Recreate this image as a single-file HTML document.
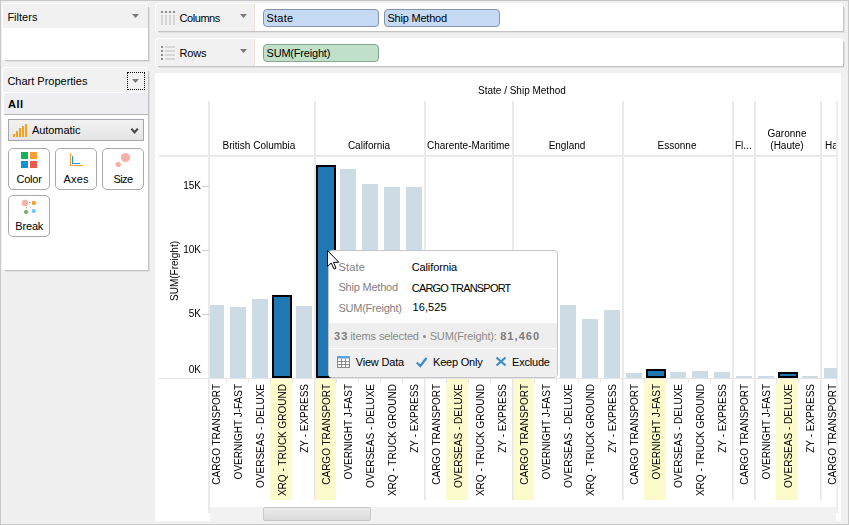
<!DOCTYPE html>
<html><head><meta charset="utf-8"><style>
html,body{margin:0;padding:0}
body{width:849px;height:525px;position:relative;overflow:hidden;background:#f0f0f0;font-family:"Liberation Sans", sans-serif}
div,svg{position:absolute}
.t{white-space:nowrap}
.g{will-change:transform}
</style></head><body>
<div style="left:0px;top:0px;width:849px;height:1px;background:#c8c8c8"></div>
<div style="left:0px;top:0px;width:1px;height:525px;background:#c8c8c8"></div>
<div style="left:0px;top:524px;width:849px;height:1px;background:#c8c8c8"></div>
<div style="left:848px;top:0px;width:1px;height:525px;background:#c8c8c8"></div>
<div style="left:148px;top:7px;width:1px;height:54px;background:#c4c4c4"></div>
<div style="left:149px;top:8px;width:1px;height:54px;background:#e0e0e0"></div>
<div style="left:5px;top:60px;width:144px;height:1px;background:#c4c4c4"></div>
<div style="left:6px;top:61px;width:144px;height:1px;background:#e0e0e0"></div>
<div style="left:2px;top:3px;width:146px;height:57px;background:#fff;border-radius:4px 4px 0 0"></div>
<div style="left:3px;top:4px;width:145px;height:24px;background:#f1f1f1;border-radius:3px 3px 0 0"></div>
<div class="t" style="left:7.4px;top:11.69px;font-size:11px;line-height:11px;color:#000;font-weight:normal;letter-spacing:0.008px;">Filters</div>
<svg style="left:132px;top:14px" width="8" height="6"><path d="M0 0H7L3.5 4Z" fill="#7a7a7a"/></svg>
<div style="left:148px;top:71px;width:1px;height:200px;background:#c4c4c4"></div>
<div style="left:149px;top:72px;width:1px;height:200px;background:#e0e0e0"></div>
<div style="left:5px;top:270px;width:144px;height:1px;background:#c4c4c4"></div>
<div style="left:6px;top:271px;width:144px;height:1px;background:#e0e0e0"></div>
<div style="left:2px;top:67px;width:146px;height:203px;background:#fff;border-radius:4px 4px 0 0"></div>
<div style="left:3px;top:68px;width:145px;height:24px;background:#f1f1f1;border-radius:3px 3px 0 0"></div>
<div class="t" style="left:7.4px;top:75.69px;font-size:11px;line-height:11px;color:#000;font-weight:normal;letter-spacing:-0.006px;">Chart Properties</div>
<div style="left:127px;top:72px;width:18px;height:18px;box-sizing:border-box;border:1px dotted #000"></div>
<svg style="left:132px;top:79px" width="8" height="6"><path d="M0 0H7L3.5 4Z" fill="#7a7a7a"/></svg>
<div style="left:4px;top:93px;width:144px;height:21px;background:#eeeef2"></div>
<div style="left:4px;top:114px;width:144px;height:1px;background:#b4b4b4"></div>
<div class="t" style="left:8px;top:98.69px;font-size:11px;line-height:11px;color:#000;font-weight:bold;letter-spacing:0.469px;">All</div>
<div style="left:8px;top:119px;width:136px;height:22px;box-sizing:border-box;border:1px solid #a3a6ab;background:linear-gradient(#f2f2f2,#e4e4e4)"></div>
<div style="left:13px;top:134px;width:2px;height:3px;background:#f5a31a"></div>
<div style="left:16px;top:131px;width:2px;height:6px;background:#f5a31a"></div>
<div style="left:19px;top:128px;width:2px;height:9px;background:#f5a31a"></div>
<div style="left:22px;top:126px;width:2px;height:11px;background:#f5a31a"></div>
<div style="left:25px;top:124px;width:2px;height:13px;background:#f5a31a"></div>
<div class="t" style="left:32px;top:124.69px;font-size:11px;line-height:11px;color:#000;font-weight:normal;letter-spacing:-0.065px;">Automatic</div>
<svg style="left:130px;top:127px" width="10" height="8"><path d="M1.4 1.6L4.6 5.4L7.8 1.6" stroke="#484848" stroke-width="2.2" fill="none"/></svg>
<div style="left:8px;top:148px;width:42px;height:42px;box-sizing:border-box;border:1px solid #a9a9a9;border-radius:5px;background:#fff"></div>
<div class="t" style="left:16.5px;top:173.69px;font-size:11px;line-height:11px;color:#000;font-weight:normal;letter-spacing:-0.249px;">Color</div>
<div style="left:55px;top:148px;width:42px;height:42px;box-sizing:border-box;border:1px solid #a9a9a9;border-radius:5px;background:#fff"></div>
<div class="t" style="left:63.5px;top:173.69px;font-size:11px;line-height:11px;color:#000;font-weight:normal;letter-spacing:0.177px;">Axes</div>
<div style="left:102px;top:148px;width:42px;height:42px;box-sizing:border-box;border:1px solid #a9a9a9;border-radius:5px;background:#fff"></div>
<div class="t" style="left:113.5px;top:173.69px;font-size:11px;line-height:11px;color:#000;font-weight:normal;letter-spacing:-0.602px;">Size</div>
<div style="left:8px;top:195px;width:42px;height:42px;box-sizing:border-box;border:1px solid #a9a9a9;border-radius:5px;background:#fff"></div>
<div class="t" style="left:15.2px;top:220.69px;font-size:11px;line-height:11px;color:#000;font-weight:normal;letter-spacing:-0.138px;">Break</div>
<div style="left:21px;top:152px;width:7px;height:7px;background:#12b35a"></div>
<div style="left:30px;top:152px;width:7px;height:7px;background:#f7a031"></div>
<div style="left:21px;top:161px;width:7px;height:7px;background:#0d94d2"></div>
<div style="left:30px;top:161px;width:7px;height:7px;background:#ee5a4a"></div>
<svg style="left:69px;top:152px" width="16" height="16"><path d="M1.5 1V13.5H14" stroke="#f7a031" stroke-width="1.1" fill="none"/><path d="M3.5 4V11.5H11" stroke="#14a0d4" stroke-width="1.1" fill="none"/></svg>
<svg style="left:112px;top:150px" width="20" height="20"><circle cx="13.5" cy="7.5" r="4.6" fill="#f4b1a8"/><circle cx="6.3" cy="14.4" r="2.6" fill="#f4b1a8"/></svg>
<svg style="left:18px;top:197px" width="22" height="18"><circle cx="7" cy="6" r="3.2" fill="#f4b1a8"/><circle cx="15.8" cy="6" r="2.2" fill="#f7a031"/><circle cx="8" cy="15" r="2.1" fill="#6bb36b"/><circle cx="15.8" cy="14" r="2.1" fill="#6cc6f5"/><path d="M11 5.5H12.5M8.5 10V11.5M11.5 9.5L12.5 10.5" stroke="#999" stroke-width="0.8"/></svg>
<div style="left:843px;top:7px;width:1px;height:25px;background:#c4c4c4"></div>
<div style="left:844px;top:8px;width:1px;height:25px;background:#e0e0e0"></div>
<div style="left:158px;top:31px;width:686px;height:1px;background:#c4c4c4"></div>
<div style="left:159px;top:32px;width:686px;height:1px;background:#e0e0e0"></div>
<div style="left:155px;top:3px;width:688px;height:28px;background:#fff;border-radius:4px 4px 0 0"></div>
<div style="left:156px;top:4px;width:687px;height:27px;background:#f1f1f1;border-radius:3px 3px 0 0"></div>
<div style="left:156px;top:4px;width:99px;height:27px;background:#f1f1f1;border-radius:3px 0 0 0"></div>
<div style="left:254px;top:4px;width:1px;height:27px;background:#ebe6d8"></div>
<div style="left:255px;top:4px;width:588px;height:27px;background:#fff"></div>
<div class="t" style="left:179.5px;top:12.69px;font-size:11px;line-height:11px;color:#000;font-weight:normal;letter-spacing:-0.434px;">Columns</div>
<svg style="left:240px;top:14px" width="8" height="6"><path d="M0 0H7L3.5 4Z" fill="#7a7a7a"/></svg>
<svg style="left:161px;top:11px" width="14" height="14"><rect x="0" y="0" width="2" height="2" fill="#8a8a8a"/><rect x="0" y="4" width="2" height="10" fill="#d6d6d6"/><rect x="4" y="0" width="2" height="2" fill="#8a8a8a"/><rect x="4" y="4" width="2" height="10" fill="#d6d6d6"/><rect x="8" y="0" width="2" height="2" fill="#8a8a8a"/><rect x="8" y="4" width="2" height="10" fill="#d6d6d6"/><rect x="12" y="0" width="2" height="2" fill="#8a8a8a"/><rect x="12" y="4" width="2" height="10" fill="#d6d6d6"/></svg>
<div style="left:843px;top:42px;width:1px;height:25px;background:#c4c4c4"></div>
<div style="left:844px;top:43px;width:1px;height:25px;background:#e0e0e0"></div>
<div style="left:158px;top:66px;width:686px;height:1px;background:#c4c4c4"></div>
<div style="left:159px;top:67px;width:686px;height:1px;background:#e0e0e0"></div>
<div style="left:155px;top:38px;width:688px;height:28px;background:#fff;border-radius:4px 4px 0 0"></div>
<div style="left:156px;top:39px;width:687px;height:27px;background:#f1f1f1;border-radius:3px 3px 0 0"></div>
<div style="left:156px;top:39px;width:99px;height:27px;background:#f1f1f1;border-radius:3px 0 0 0"></div>
<div style="left:254px;top:39px;width:1px;height:27px;background:#ebe6d8"></div>
<div style="left:255px;top:39px;width:588px;height:27px;background:#fff"></div>
<div class="t" style="left:179.5px;top:47.69px;font-size:11px;line-height:11px;color:#000;font-weight:normal;letter-spacing:-0.172px;">Rows</div>
<svg style="left:240px;top:49px" width="8" height="6"><path d="M0 0H7L3.5 4Z" fill="#7a7a7a"/></svg>
<svg style="left:161px;top:46px" width="16" height="14"><rect x="0" y="0" width="2" height="2" fill="#8a8a8a"/><rect x="4" y="0" width="10" height="2" fill="#d6d6d6"/><rect x="0" y="4" width="2" height="2" fill="#8a8a8a"/><rect x="4" y="4" width="10" height="2" fill="#d6d6d6"/><rect x="0" y="8" width="2" height="2" fill="#8a8a8a"/><rect x="4" y="8" width="10" height="2" fill="#d6d6d6"/><rect x="0" y="12" width="2" height="2" fill="#8a8a8a"/><rect x="4" y="12" width="10" height="2" fill="#d6d6d6"/></svg>
<div style="left:263px;top:9px;width:116px;height:18px;box-sizing:border-box;border:1px solid #8193ad;border-radius:4px;background:#c7daf4"></div>
<div class="t" style="left:266.5px;top:12.69px;font-size:11px;line-height:11px;color:#000;font-weight:normal;letter-spacing:0.228px;">State</div>
<div style="left:384px;top:9px;width:116px;height:18px;box-sizing:border-box;border:1px solid #8193ad;border-radius:4px;background:#c7daf4"></div>
<div class="t" style="left:387.5px;top:12.69px;font-size:11px;line-height:11px;color:#000;font-weight:normal;letter-spacing:-0.217px;">Ship Method</div>
<div style="left:263px;top:44px;width:116px;height:18px;box-sizing:border-box;border:1px solid #88a592;border-radius:4px;background:#c0e0c9"></div>
<div class="t" style="left:266.5px;top:47.69px;font-size:11px;line-height:11px;color:#000;font-weight:normal;letter-spacing:-0.192px;">SUM(Freight)</div>
<div style="left:155px;top:73px;width:686px;height:448px;background:#fff"></div>
<div class="t" style="left:478px;top:85.53999999999999px;font-size:10px;line-height:10px;color:#000;font-weight:normal;will-change:transform;">State / Ship Method</div>
<div style="left:208px;top:101px;width:2px;height:412px;background:#eaeaea"></div>
<div style="left:314px;top:101px;width:2px;height:399px;background:#eaeaea"></div>
<div style="left:424px;top:101px;width:2px;height:399px;background:#eaeaea"></div>
<div style="left:512px;top:101px;width:2px;height:399px;background:#eaeaea"></div>
<div style="left:622px;top:101px;width:2px;height:399px;background:#eaeaea"></div>
<div style="left:732px;top:101px;width:2px;height:399px;background:#eaeaea"></div>
<div style="left:754px;top:101px;width:2px;height:399px;background:#eaeaea"></div>
<div style="left:820px;top:101px;width:2px;height:399px;background:#eaeaea"></div>
<div style="left:836px;top:101px;width:2px;height:412px;background:#efefef"></div>
<div style="left:159px;top:155px;width:678px;height:2px;background:#efefef"></div>
<div style="left:159px;top:155px;width:678px;height:1px;background:#e6e6e6"></div>
<div class="t g" style="left:159px;width:200px;text-align:center;top:140.54px;font-size:10px;line-height:10px;color:#000">British Columbia</div>
<div class="t g" style="left:269px;width:200px;text-align:center;top:140.54px;font-size:10px;line-height:10px;color:#000">California</div>
<div class="t g" style="left:427px;top:140.53px;font-size:10px;line-height:10px;color:#000">Charente-Maritime</div>
<div class="t g" style="left:467px;width:200px;text-align:center;top:140.54px;font-size:10px;line-height:10px;color:#000">England</div>
<div class="t g" style="left:577px;width:200px;text-align:center;top:140.54px;font-size:10px;line-height:10px;color:#000">Essonne</div>
<div class="t g" style="left:735px;top:140.53px;font-size:10px;line-height:10px;color:#000">Fl...</div>
<div class="t g" style="left:687px;width:200px;text-align:center;top:128.54px;font-size:10px;line-height:10px;color:#000">Garonne</div>
<div class="t g" style="left:687px;width:200px;text-align:center;top:140.54px;font-size:10px;line-height:10px;color:#000">(Haute)</div>
<div class="t g" style="left:825px;top:140.53px;font-size:10px;line-height:10px;color:#000;width:11px;overflow:hidden">Ha</div>
<div style="left:159px;top:378px;width:50px;height:1px;background:#e6e6e6"></div>
<div style="left:210px;top:378px;width:627px;height:1px;background:#e6e6e6"></div>
<div style="left:202px;top:186px;width:7px;height:1px;background:#d0d0d0"></div>
<div class="t g" style="left:150.5px;width:50px;text-align:right;top:181.03px;font-size:10px;line-height:10px;color:#000">15K</div>
<div style="left:202px;top:250px;width:7px;height:1px;background:#d0d0d0"></div>
<div class="t g" style="left:150.5px;width:50px;text-align:right;top:245.03px;font-size:10px;line-height:10px;color:#000">10K</div>
<div style="left:202px;top:314px;width:7px;height:1px;background:#d0d0d0"></div>
<div class="t g" style="left:150.5px;width:50px;text-align:right;top:309.03px;font-size:10px;line-height:10px;color:#000">5K</div>
<div class="t g" style="left:150.5px;width:50px;text-align:right;top:364.53px;font-size:10px;line-height:10px;color:#000">0K</div>
<div class="t g" style="left:170px;top:321px;width:100px;text-align:center;font-size:10px;line-height:10px;color:#000;transform:rotate(-90deg);transform-origin:0 0">SUM(Freight)</div>
<div style="left:210px;top:157px;width:627px;height:221px;overflow:hidden">
<div style="left:-2px;top:148px;width:16px;height:73px;background:#cddbe5"></div>
<div style="left:20px;top:150px;width:16px;height:71px;background:#cddbe5"></div>
<div style="left:42px;top:142px;width:16px;height:79px;background:#cddbe5"></div>
<div style="left:62px;top:138px;width:20px;height:83px;box-sizing:border-box;border:2px solid #000;background:#1f77b4"></div>
<div style="left:86px;top:149px;width:16px;height:72px;background:#cddbe5"></div>
<div style="left:106px;top:8px;width:20px;height:213px;box-sizing:border-box;border:2px solid #000;background:#1f77b4"></div>
<div style="left:130px;top:12px;width:16px;height:209px;background:#cddbe5"></div>
<div style="left:152px;top:27px;width:16px;height:194px;background:#cddbe5"></div>
<div style="left:174px;top:30px;width:16px;height:191px;background:#cddbe5"></div>
<div style="left:196px;top:30px;width:16px;height:191px;background:#cddbe5"></div>
<div style="left:218px;top:213px;width:16px;height:8px;background:#cddbe5"></div>
<div style="left:238px;top:213px;width:20px;height:8px;box-sizing:border-box;border:2px solid #000;background:#1f77b4"></div>
<div style="left:262px;top:215px;width:16px;height:6px;background:#cddbe5"></div>
<div style="left:284px;top:215px;width:16px;height:6px;background:#cddbe5"></div>
<div style="left:304px;top:141px;width:20px;height:80px;box-sizing:border-box;border:2px solid #000;background:#1f77b4"></div>
<div style="left:328px;top:163px;width:16px;height:58px;background:#cddbe5"></div>
<div style="left:350px;top:148px;width:16px;height:73px;background:#cddbe5"></div>
<div style="left:372px;top:162px;width:16px;height:59px;background:#cddbe5"></div>
<div style="left:394px;top:153px;width:16px;height:68px;background:#cddbe5"></div>
<div style="left:416px;top:216px;width:16px;height:5px;background:#cddbe5"></div>
<div style="left:436px;top:212px;width:20px;height:9px;box-sizing:border-box;border:2px solid #000;background:#1f77b4"></div>
<div style="left:460px;top:215px;width:16px;height:6px;background:#cddbe5"></div>
<div style="left:482px;top:214px;width:16px;height:7px;background:#cddbe5"></div>
<div style="left:504px;top:215px;width:16px;height:6px;background:#cddbe5"></div>
<div style="left:526px;top:219px;width:16px;height:2px;background:#cddbe5"></div>
<div style="left:548px;top:219px;width:16px;height:2px;background:#cddbe5"></div>
<div style="left:568px;top:215px;width:20px;height:6px;box-sizing:border-box;border:2px solid #000;background:#1f77b4"></div>
<div style="left:592px;top:219px;width:16px;height:2px;background:#cddbe5"></div>
<div style="left:614px;top:211px;width:16px;height:10px;background:#cddbe5"></div>
</div>
<div style="left:210px;top:379px;width:627px;height:134px;overflow:hidden">
<div class="t g" style="left:1.5px;top:155px;width:150px;text-align:right;font-size:10px;line-height:10px;color:#000;transform:rotate(-90deg);transform-origin:0 0;white-space:nowrap">CARGO TRANSPORT</div>
<div style="left:16px;top:0;width:1px;height:4px;background:#e6e6e6"></div>
<div class="t g" style="left:23.5px;top:155px;width:150px;text-align:right;font-size:10px;line-height:10px;color:#000;transform:rotate(-90deg);transform-origin:0 0;white-space:nowrap">OVERNIGHT J-FAST</div>
<div style="left:38px;top:0;width:1px;height:4px;background:#e6e6e6"></div>
<div class="t g" style="left:45.5px;top:155px;width:150px;text-align:right;font-size:10px;line-height:10px;color:#000;transform:rotate(-90deg);transform-origin:0 0;white-space:nowrap">OVERSEAS - DELUXE</div>
<div style="left:60px;top:0;width:22px;height:121px;background:#fbfbcb"></div>
<div style="left:60px;top:0;width:1px;height:4px;background:#e6e6e6"></div>
<div class="t g" style="left:67.5px;top:155px;width:150px;text-align:right;font-size:10px;line-height:10px;color:#000;transform:rotate(-90deg);transform-origin:0 0;white-space:nowrap">XRQ - TRUCK GROUND</div>
<div style="left:82px;top:0;width:1px;height:4px;background:#e6e6e6"></div>
<div class="t g" style="left:89.5px;top:155px;width:150px;text-align:right;font-size:10px;line-height:10px;color:#000;transform:rotate(-90deg);transform-origin:0 0;white-space:nowrap">ZY - EXPRESS</div>
<div style="left:104px;top:0;width:22px;height:121px;background:#fbfbcb"></div>
<div style="left:104px;top:0;width:2px;height:121px;background:#efefef"></div><div style="left:104px;top:0;width:1px;height:121px;background:#e6e6e6"></div>
<div class="t g" style="left:111.5px;top:155px;width:150px;text-align:right;font-size:10px;line-height:10px;color:#000;transform:rotate(-90deg);transform-origin:0 0;white-space:nowrap">CARGO TRANSPORT</div>
<div style="left:126px;top:0;width:1px;height:4px;background:#e6e6e6"></div>
<div class="t g" style="left:133.5px;top:155px;width:150px;text-align:right;font-size:10px;line-height:10px;color:#000;transform:rotate(-90deg);transform-origin:0 0;white-space:nowrap">OVERNIGHT J-FAST</div>
<div style="left:148px;top:0;width:1px;height:4px;background:#e6e6e6"></div>
<div class="t g" style="left:155.5px;top:155px;width:150px;text-align:right;font-size:10px;line-height:10px;color:#000;transform:rotate(-90deg);transform-origin:0 0;white-space:nowrap">OVERSEAS - DELUXE</div>
<div style="left:170px;top:0;width:1px;height:4px;background:#e6e6e6"></div>
<div class="t g" style="left:177.5px;top:155px;width:150px;text-align:right;font-size:10px;line-height:10px;color:#000;transform:rotate(-90deg);transform-origin:0 0;white-space:nowrap">XRQ - TRUCK GROUND</div>
<div style="left:192px;top:0;width:1px;height:4px;background:#e6e6e6"></div>
<div class="t g" style="left:199.5px;top:155px;width:150px;text-align:right;font-size:10px;line-height:10px;color:#000;transform:rotate(-90deg);transform-origin:0 0;white-space:nowrap">ZY - EXPRESS</div>
<div style="left:214px;top:0;width:2px;height:121px;background:#efefef"></div><div style="left:214px;top:0;width:1px;height:121px;background:#e6e6e6"></div>
<div class="t g" style="left:221.5px;top:155px;width:150px;text-align:right;font-size:10px;line-height:10px;color:#000;transform:rotate(-90deg);transform-origin:0 0;white-space:nowrap">CARGO TRANSPORT</div>
<div style="left:236px;top:0;width:22px;height:121px;background:#fbfbcb"></div>
<div style="left:236px;top:0;width:1px;height:4px;background:#e6e6e6"></div>
<div class="t g" style="left:243.5px;top:155px;width:150px;text-align:right;font-size:10px;line-height:10px;color:#000;transform:rotate(-90deg);transform-origin:0 0;white-space:nowrap">OVERSEAS - DELUXE</div>
<div style="left:258px;top:0;width:1px;height:4px;background:#e6e6e6"></div>
<div class="t g" style="left:265.5px;top:155px;width:150px;text-align:right;font-size:10px;line-height:10px;color:#000;transform:rotate(-90deg);transform-origin:0 0;white-space:nowrap">XRQ - TRUCK GROUND</div>
<div style="left:280px;top:0;width:1px;height:4px;background:#e6e6e6"></div>
<div class="t g" style="left:287.5px;top:155px;width:150px;text-align:right;font-size:10px;line-height:10px;color:#000;transform:rotate(-90deg);transform-origin:0 0;white-space:nowrap">ZY - EXPRESS</div>
<div style="left:302px;top:0;width:22px;height:121px;background:#fbfbcb"></div>
<div style="left:302px;top:0;width:2px;height:121px;background:#efefef"></div><div style="left:302px;top:0;width:1px;height:121px;background:#e6e6e6"></div>
<div class="t g" style="left:309.5px;top:155px;width:150px;text-align:right;font-size:10px;line-height:10px;color:#000;transform:rotate(-90deg);transform-origin:0 0;white-space:nowrap">CARGO TRANSPORT</div>
<div style="left:324px;top:0;width:1px;height:4px;background:#e6e6e6"></div>
<div class="t g" style="left:331.5px;top:155px;width:150px;text-align:right;font-size:10px;line-height:10px;color:#000;transform:rotate(-90deg);transform-origin:0 0;white-space:nowrap">OVERNIGHT J-FAST</div>
<div style="left:346px;top:0;width:1px;height:4px;background:#e6e6e6"></div>
<div class="t g" style="left:353.5px;top:155px;width:150px;text-align:right;font-size:10px;line-height:10px;color:#000;transform:rotate(-90deg);transform-origin:0 0;white-space:nowrap">OVERSEAS - DELUXE</div>
<div style="left:368px;top:0;width:1px;height:4px;background:#e6e6e6"></div>
<div class="t g" style="left:375.5px;top:155px;width:150px;text-align:right;font-size:10px;line-height:10px;color:#000;transform:rotate(-90deg);transform-origin:0 0;white-space:nowrap">XRQ - TRUCK GROUND</div>
<div style="left:390px;top:0;width:1px;height:4px;background:#e6e6e6"></div>
<div class="t g" style="left:397.5px;top:155px;width:150px;text-align:right;font-size:10px;line-height:10px;color:#000;transform:rotate(-90deg);transform-origin:0 0;white-space:nowrap">ZY - EXPRESS</div>
<div style="left:412px;top:0;width:2px;height:121px;background:#efefef"></div><div style="left:412px;top:0;width:1px;height:121px;background:#e6e6e6"></div>
<div class="t g" style="left:419.5px;top:155px;width:150px;text-align:right;font-size:10px;line-height:10px;color:#000;transform:rotate(-90deg);transform-origin:0 0;white-space:nowrap">CARGO TRANSPORT</div>
<div style="left:434px;top:0;width:22px;height:121px;background:#fbfbcb"></div>
<div style="left:434px;top:0;width:1px;height:4px;background:#e6e6e6"></div>
<div class="t g" style="left:441.5px;top:155px;width:150px;text-align:right;font-size:10px;line-height:10px;color:#000;transform:rotate(-90deg);transform-origin:0 0;white-space:nowrap">OVERNIGHT J-FAST</div>
<div style="left:456px;top:0;width:1px;height:4px;background:#e6e6e6"></div>
<div class="t g" style="left:463.5px;top:155px;width:150px;text-align:right;font-size:10px;line-height:10px;color:#000;transform:rotate(-90deg);transform-origin:0 0;white-space:nowrap">OVERSEAS - DELUXE</div>
<div style="left:478px;top:0;width:1px;height:4px;background:#e6e6e6"></div>
<div class="t g" style="left:485.5px;top:155px;width:150px;text-align:right;font-size:10px;line-height:10px;color:#000;transform:rotate(-90deg);transform-origin:0 0;white-space:nowrap">XRQ - TRUCK GROUND</div>
<div style="left:500px;top:0;width:1px;height:4px;background:#e6e6e6"></div>
<div class="t g" style="left:507.5px;top:155px;width:150px;text-align:right;font-size:10px;line-height:10px;color:#000;transform:rotate(-90deg);transform-origin:0 0;white-space:nowrap">ZY - EXPRESS</div>
<div style="left:522px;top:0;width:2px;height:121px;background:#efefef"></div><div style="left:522px;top:0;width:1px;height:121px;background:#e6e6e6"></div>
<div class="t g" style="left:529.5px;top:155px;width:150px;text-align:right;font-size:10px;line-height:10px;color:#000;transform:rotate(-90deg);transform-origin:0 0;white-space:nowrap">CARGO TRANSPORT</div>
<div style="left:544px;top:0;width:2px;height:121px;background:#efefef"></div><div style="left:544px;top:0;width:1px;height:121px;background:#e6e6e6"></div>
<div class="t g" style="left:551.5px;top:155px;width:150px;text-align:right;font-size:10px;line-height:10px;color:#000;transform:rotate(-90deg);transform-origin:0 0;white-space:nowrap">OVERNIGHT J-FAST</div>
<div style="left:566px;top:0;width:22px;height:121px;background:#fbfbcb"></div>
<div style="left:566px;top:0;width:1px;height:4px;background:#e6e6e6"></div>
<div class="t g" style="left:573.5px;top:155px;width:150px;text-align:right;font-size:10px;line-height:10px;color:#000;transform:rotate(-90deg);transform-origin:0 0;white-space:nowrap">OVERSEAS - DELUXE</div>
<div style="left:588px;top:0;width:1px;height:4px;background:#e6e6e6"></div>
<div class="t g" style="left:595.5px;top:155px;width:150px;text-align:right;font-size:10px;line-height:10px;color:#000;transform:rotate(-90deg);transform-origin:0 0;white-space:nowrap">ZY - EXPRESS</div>
<div style="left:610px;top:0;width:2px;height:121px;background:#efefef"></div><div style="left:610px;top:0;width:1px;height:121px;background:#e6e6e6"></div>
<div class="t g" style="left:617.5px;top:155px;width:150px;text-align:right;font-size:10px;line-height:10px;color:#000;transform:rotate(-90deg);transform-origin:0 0;white-space:nowrap">CARGO TRANSPORT</div>
</div>
<div style="left:210px;top:507px;width:626px;height:14px;background:#f2f2f2"></div>
<div style="left:263px;top:507px;width:108px;height:14px;box-sizing:border-box;border:1px solid #c6c6c6;border-radius:2px;background:linear-gradient(#ececec,#dadada)"></div>
<div style="left:841px;top:72px;width:7px;height:452px;background:#f0f0f0"></div>
<div style="left:328px;top:250px;width:230px;height:128px;box-sizing:border-box;border:1px solid #c4c4c4;border-radius:4px;background:#fff;overflow:hidden">
<div style="left:0;top:72px;width:228px;height:25px;background:#eeeeee"></div>
<div style="left:0;top:98px;width:228px;height:30px;background:#f0f0f0"></div>
</div>
<div class="t" style="left:338.4px;top:262.19px;font-size:11px;line-height:11px;color:#7f7f7f;font-weight:normal;letter-spacing:0.228px;">State</div>
<div class="t" style="left:338.4px;top:282.19px;font-size:11px;line-height:11px;color:#7f7f7f;font-weight:normal;letter-spacing:-0.207px;">Ship Method</div>
<div class="t" style="left:338.4px;top:302.69px;font-size:11px;line-height:11px;color:#7f7f7f;font-weight:normal;letter-spacing:-0.22px;">SUM(Freight)</div>
<div class="t" style="left:411.7px;top:262.19px;font-size:11px;line-height:11px;color:#000;font-weight:normal;letter-spacing:-0.108px;">California</div>
<div class="t" style="left:411.8px;top:282.69px;font-size:11px;line-height:11px;color:#000;font-weight:normal;letter-spacing:-0.81px;">CARGO TRANSPORT</div>
<div class="t" style="left:412.5px;top:302.19px;font-size:11px;line-height:11px;color:#000;font-weight:normal;letter-spacing:0.109px;">16,525</div>
<div class="t" style="left:334px;top:330.69px;font-size:11px;line-height:11px;color:#7c7c7c;font-weight:bold;letter-spacing:1.25px;">33</div>
<div class="t" style="left:350.3px;top:330.69px;font-size:11px;line-height:11px;color:#8a8a8a;font-weight:normal;letter-spacing:-0.124px;">items selected</div>
<div style="left:422.8px;top:334.5px;width:3px;height:3px;border-radius:50%;background:#8a8a8a"></div>
<div class="t" style="left:429.7px;top:330.69px;font-size:11px;line-height:11px;color:#8a8a8a;font-weight:normal;letter-spacing:-0.155px;">SUM(Freight):</div>
<div class="t" style="left:500.2px;top:330.69px;font-size:11px;line-height:11px;color:#7c7c7c;font-weight:bold;letter-spacing:1.049px;">81,460</div>
<svg style="left:337px;top:356px" width="13" height="12"><rect x="0.5" y="0.5" width="12" height="11" fill="#fff" stroke="#8a8a8a"/><rect x="0" y="0" width="13" height="2.5" fill="#5aa2e2"/><path d="M0.5 5.5H12.5M0.5 8.5H12.5M4.5 2.5V12M8.5 2.5V12" stroke="#8a8a8a" stroke-width="1"/></svg>
<div class="t" style="left:355.7px;top:356.69px;font-size:11px;line-height:11px;color:#000;font-weight:normal;letter-spacing:-0.18px;">View Data</div>
<svg style="left:415px;top:356px" width="13" height="12"><path d="M1.8 6.5L5.3 10L11.5 2" stroke="#3d8ccb" stroke-width="2.3" fill="none"/></svg>
<div class="t" style="left:433px;top:356.69px;font-size:11px;line-height:11px;color:#000;font-weight:normal;letter-spacing:-0.197px;">Keep Only</div>
<svg style="left:495px;top:356px" width="12" height="11"><path d="M1.5 1.5L10.5 9.5M10.5 1.5L1.5 9.5" stroke="#3d8ccb" stroke-width="2.2" fill="none"/></svg>
<div class="t" style="left:512.1px;top:356.69px;font-size:11px;line-height:11px;color:#000;font-weight:normal;letter-spacing:-0.207px;">Exclude</div>
<svg style="left:327px;top:250px" width="14" height="21"><path d="M0.5 0.5V16.5L4.2 13L7 19L9 18.2L6.5 12.3H11.8Z" fill="#fff" stroke="#000" stroke-width="1"/></svg>
</body></html>
